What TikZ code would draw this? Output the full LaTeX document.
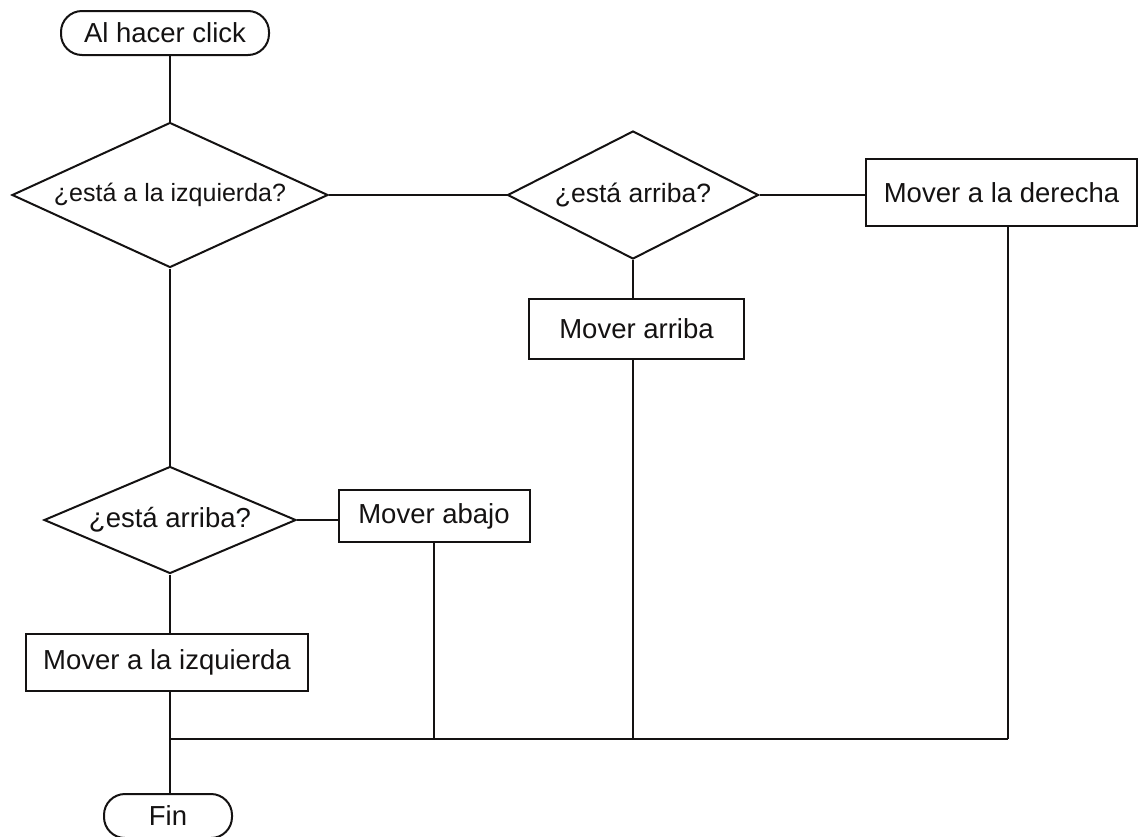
\documentclass[tikz,border=0pt]{standalone}
\usepackage{fontspec}
\setmainfont{Liberation Sans}
\usepackage{tikz}
\usetikzlibrary{calc,positioning,shapes.geometric}
\definecolor{flowInk}{RGB}{20,18,18}

\begin{document}
\begin{tikzpicture}[x=1pt, y=1pt, line width=2pt, draw=flowInk,
    txt/.style={font=\fontsize{27.5}{32}\selectfont, text=flowInk, inner sep=0pt},
    terminal/.style={txt, draw, rectangle, rounded corners=21pt, minimum height=44pt},
    decision/.style={txt, draw, diamond, inner sep=0pt},
    action/.style={txt, draw, rectangle}]
\useasboundingbox (0,0) rectangle (1139,-836);

\node[terminal, minimum width=208pt] (start) at (165,-33) {Al hacer click};
\node[decision, aspect=2.18, minimum width=316pt, minimum height=145pt, font=\fontsize{25}{29}\selectfont] (qLeft) at (170,-195) {¿está a la izquierda?};
\node[decision, aspect=2.0, minimum width=251pt, minimum height=128pt, font=\fontsize{26.5}{30}\selectfont] (qUpR) at (633,-195) {¿está arriba?};
\node[action, minimum width=271pt, minimum height=67pt] (moveRight) at (1001.5,-192.5) {Mover a la derecha};
\node[action, minimum width=215pt, minimum height=60pt] (moveUp) at (636.5,-329) {Mover arriba};
\node[decision, aspect=2.36, minimum width=252pt, minimum height=107pt] (qUpL) at (170,-520) {¿está arriba?};
\node[action, minimum width=191pt, minimum height=52pt] (moveDown) at (434,-516) {Mover abajo};
\node[action, minimum width=282pt, minimum height=57pt] (moveLeft) at (167,-662.5) {Mover a la izquierda};
\node[terminal, minimum width=128pt] (finish) at (168,-816) {Fin};
\coordinate (merge) at (170,-739);
\coordinate (dropRight) at (1008,-226);

\draw (qLeft.north) -- (qLeft.north |- start.south);
\draw (qLeft.east) -- (qUpR.west);
\draw (qUpR.east) -- (qUpR.east -| moveRight.west);
\draw (qUpR.south) -- (qUpR.south |- moveUp.north);
\draw (qLeft.south) -- (qUpL.north);
\draw (qUpL.east) -- (qUpL.east -| moveDown.west);
\draw (qUpL.south) -- (qUpL.south |- moveLeft.north);
\draw (qUpL.south |- moveLeft.south) -- (qUpL.south |- finish.north);
\draw (merge) -- (merge -| dropRight);
\draw (moveDown.south) -- (moveDown.south |- merge);
\draw (qUpR.south |- moveUp.south) -- (qUpR.south |- merge);
\draw (dropRight) -- (dropRight |- merge);
\end{tikzpicture}
\end{document}
